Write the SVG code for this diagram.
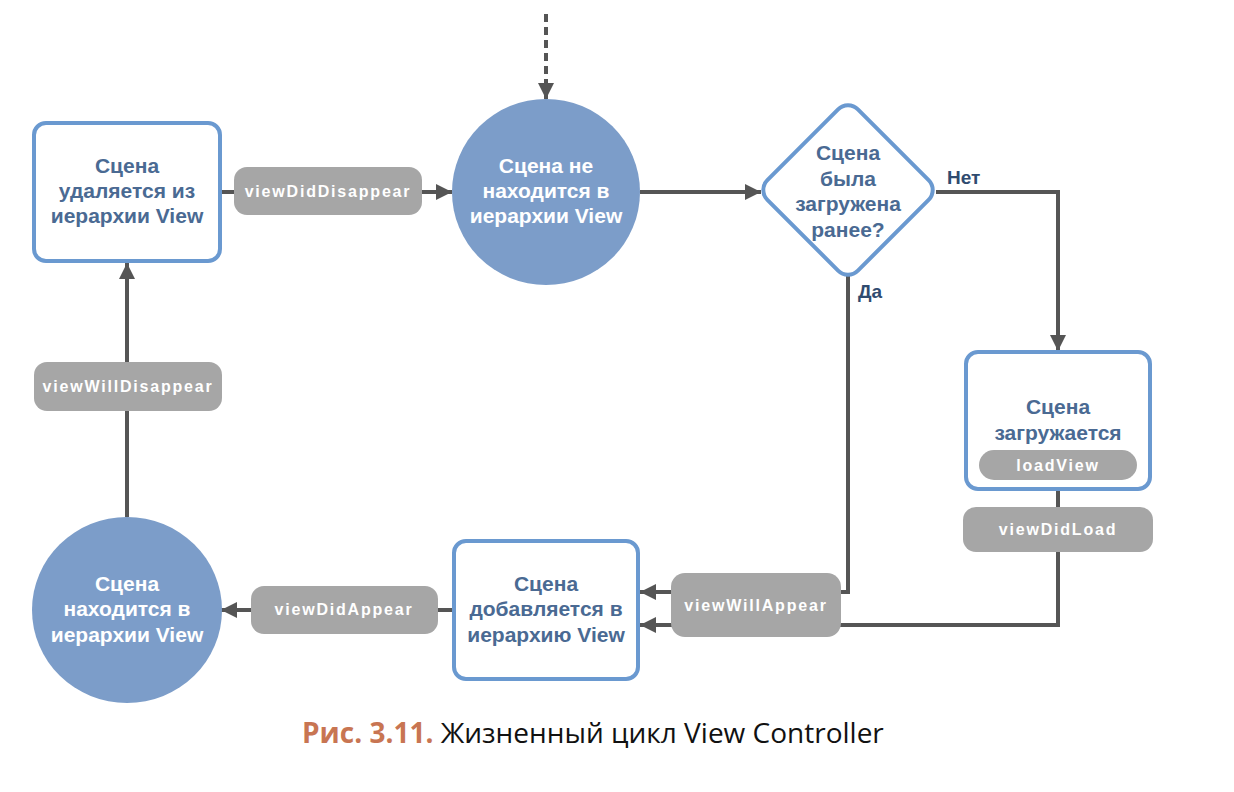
<svg xmlns="http://www.w3.org/2000/svg" width="1234" height="792" viewBox="0 0 1234 792">
<defs>
<style>
.box{fill:#fff;stroke:#6A99D0;stroke-width:4}
.circ{fill:#7C9DC9}
.pill{fill:#A6A6A6}
.t{font-family:"Liberation Sans",Arial,sans-serif;font-weight:bold;font-size:21px;text-anchor:middle;fill:#4A6A93}
.tw{fill:#fff}
.p{font-family:"Liberation Sans",Arial,sans-serif;font-weight:bold;font-size:16px;letter-spacing:1.8px;text-anchor:middle;fill:#fff}
.lbl{font-family:"Liberation Sans",Arial,sans-serif;font-weight:bold;font-size:19px;fill:#2F4B6F}
.ln{fill:none;stroke:#555;stroke-width:4}
</style>
<marker id="ah" viewBox="0 0 16 16" refX="16" refY="8" markerWidth="16" markerHeight="16" markerUnits="userSpaceOnUse" orient="auto">
<path d="M0,0 L16,8 L0,16 Z" fill="#555"/>
</marker>
</defs>
<rect width="1234" height="792" fill="#fff"/>

<g id="connectors">
<line class="ln" x1="546" y1="14" x2="546" y2="99" stroke-dasharray="8 5" marker-end="url(#ah)"/>
<line class="ln" x1="220" y1="192" x2="452" y2="192" marker-end="url(#ah)"/>
<line class="ln" x1="640" y1="192" x2="761" y2="192" marker-end="url(#ah)"/>
<polyline class="ln" points="936,192 1058,192 1058,351" marker-end="url(#ah)"/>
<polyline class="ln" points="1058,490 1058,625 640,625" marker-end="url(#ah)"/>
<polyline class="ln" points="848,275 848,592 640,592" marker-end="url(#ah)"/>
<line class="ln" x1="453" y1="610" x2="221" y2="610" marker-end="url(#ah)"/>
<line class="ln" x1="127" y1="517" x2="127" y2="263" marker-end="url(#ah)"/>
</g>

<g id="node-removed">
<rect class="box" x="34" y="123" width="186" height="138" rx="12"/>
<text class="t" x="127" y="173">Сцена</text>
<text class="t" x="127" y="198">удаляется из</text>
<text class="t" x="127" y="223">иерархии View</text>
</g>

<g id="pill-viewDidDisappear">
<rect class="pill" x="234" y="167" width="188" height="48" rx="13"/>
<text class="p" x="328" y="197">viewDidDisappear</text>
</g>

<g id="node-not-in-hierarchy">
<ellipse class="circ" cx="546" cy="192" rx="94" ry="93"/>
<text class="t tw" x="546" y="173">Сцена не</text>
<text class="t tw" x="546" y="198">находится в</text>
<text class="t tw" x="546" y="223">иерархии View</text>
</g>

<g id="node-loaded-before">
<rect class="box" x="784" y="126" width="128" height="128" rx="14" transform="rotate(45 848 190)"/>
<text class="t" x="848" y="160">Сцена</text>
<text class="t" x="848" y="186">была</text>
<text class="t" x="848" y="211">загружена</text>
<text class="t" x="848" y="237">ранее?</text>
</g>
<text class="lbl" x="947" y="184">Нет</text>
<text class="lbl" x="858" y="298">Да</text>

<g id="node-loading">
<rect class="box" x="966" y="352" width="184" height="137" rx="12"/>
<text class="t" x="1058" y="414">Сцена</text>
<text class="t" x="1058" y="440">загружается</text>
<rect class="pill" x="979" y="450" width="158" height="30" rx="15"/>
<text class="p" x="1058" y="471">loadView</text>
</g>

<g id="pill-viewDidLoad">
<rect class="pill" x="963" y="507" width="190" height="45" rx="13"/>
<text class="p" x="1058" y="535">viewDidLoad</text>
</g>

<g id="pill-viewWillAppear">
<rect class="pill" x="671" y="573" width="170" height="64" rx="14"/>
<text class="p" x="756" y="611">viewWillAppear</text>
</g>

<g id="node-adding">
<rect class="box" x="454" y="541" width="184" height="138" rx="12"/>
<text class="t" x="546" y="591">Сцена</text>
<text class="t" x="546" y="616">добавляется в</text>
<text class="t" x="546" y="642">иерархию View</text>
</g>

<g id="pill-viewDidAppear">
<rect class="pill" x="251" y="586" width="187" height="48" rx="13"/>
<text class="p" x="344" y="615">viewDidAppear</text>
</g>

<g id="node-in-hierarchy">
<ellipse class="circ" cx="127" cy="610" rx="95" ry="93"/>
<text class="t tw" x="127" y="591">Сцена</text>
<text class="t tw" x="127" y="616">находится в</text>
<text class="t tw" x="127" y="642">иерархии View</text>
</g>

<g id="pill-viewWillDisappear">
<rect class="pill" x="34" y="362" width="188" height="49" rx="13"/>
<text class="p" x="128" y="392">viewWillDisappear</text>
</g>

<text x="302" y="743" font-family="'Open Sans',sans-serif" font-size="28px" fill="#111"><tspan fill="#C87552" font-weight="bold">Рис. 3.11.</tspan> Жизненный цикл View Controller</text>
</svg>
